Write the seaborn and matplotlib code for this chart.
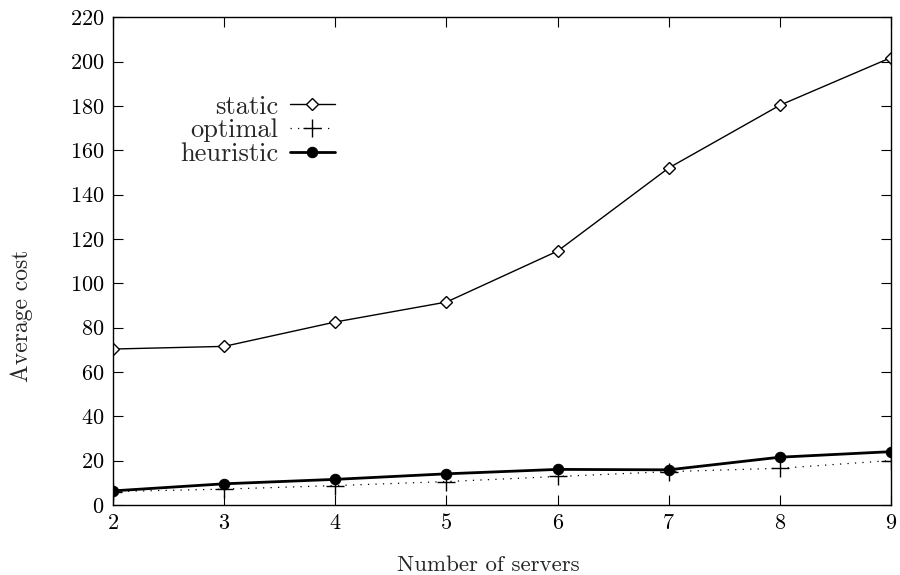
import pandas as pd
import seaborn as sns
import matplotlib.pyplot as plt

## values
servers = [2, 3, 4, 5, 6, 7, 8, 9]
static_cost = [70.3, 71.5, 82.5, 91.5, 114.5, 152.0, 180.3, 201.8]
optimal_cost = [6.0, 7.1, 8.7, 10.5, 12.8, 15.0, 16.5, 20.0]
heuristic_cost = [6.3, 9.5, 11.5, 14.0, 16.0, 15.8, 21.5, 24.0]

df = pd.DataFrame({
    "servers": servers * 3,
    "cost": static_cost + optimal_cost + heuristic_cost,
    "method": ["static"] * 8 + ["optimal"] * 8 + ["heuristic"] * 8,
})

sns.set_style('ticks')
plt.rcParams['font.family'] = ['cmr10', 'DejaVu Serif']
plt.rcParams['axes.formatter.use_mathtext'] = True
fs = 16

fig = plt.figure(figsize=(9, 5.75), dpi=100)
ax = fig.add_axes([0.1256, 0.122, 0.8644, 0.848])

styles = {
    "static": dict(marker="D", markersize=6.5, markerfacecolor="white",
                   markeredgecolor="black", markeredgewidth=1.0, linewidth=1.0, linestyle="-"),
    "optimal": dict(marker="+", markersize=13, markeredgewidth=1.0,
                    markeredgecolor="black", linewidth=0.9, linestyle=(0, (1, 5))),
    "heuristic": dict(marker="o", markersize=7.5, markerfacecolor="black",
                      markeredgecolor="black", linewidth=2.0, linestyle="-"),
}

for name in ["static", "optimal", "heuristic"]:
    sub = df[df["method"] == name]
    sns.lineplot(x="servers", y="cost", data=sub, ax=ax, color="black",
                 label=name, **styles[name])

ax.set_xlim(2, 9)
ax.set_ylim(0, 220)
ax.set_xticks(servers)
ax.set_yticks(range(0, 221, 20))
ax.tick_params(direction="in", top=True, right=True, length=7, width=0.8,
               labelsize=fs, pad=6, colors="black")
for s in ax.spines.values():
    s.set_linewidth(1.0)
    s.set_color("black")
ax.set_xlabel("Number of servers", fontsize=fs + 0.5)
ax.set_ylabel("Average cost", fontsize=fs + 1)
ax.xaxis.set_label_coords(0.483, -0.103)
ax.yaxis.set_label_coords(-0.103, 0.387)

leg = ax.legend(loc="upper right", bbox_to_anchor=(0.285, 0.841), frameon=False,
                markerfirst=False, handlelength=1.7, fontsize=19,
                labelspacing=0.0, handletextpad=0.45, borderpad=0.0,
                borderaxespad=0.0)
for t in leg.get_texts():
    t.set_ha("right")
leg._legend_box.align = "right"

fig.savefig("out.png", dpi=100)
